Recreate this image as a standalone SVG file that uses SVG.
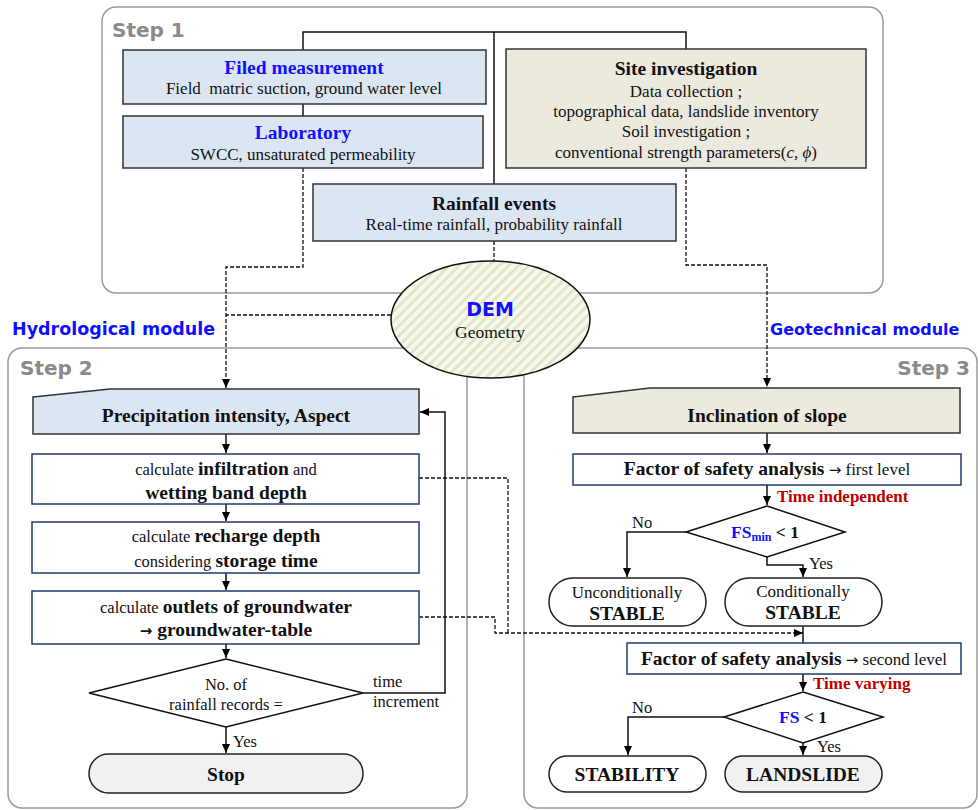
<svg xmlns="http://www.w3.org/2000/svg" width="978" height="810" viewBox="0 0 978 810">
<defs>
<pattern id="stripes" width="7" height="7" patternUnits="userSpaceOnUse" patternTransform="rotate(45)">
<rect width="7" height="7" fill="#f7f9f0"/>
<rect width="3" height="7" fill="#dfe7c8"/>
</pattern>
<marker id="arr" markerWidth="10" markerHeight="10" refX="9" refY="5" orient="auto" markerUnits="userSpaceOnUse">
<path d="M0,1 L9,5 L0,9 Z" fill="#000"/>
</marker>
</defs>
<style>
.panel{fill:none;stroke:#9a9a9a;stroke-width:1.5}
.step{font-family:"DejaVu Sans",Verdana,sans-serif;font-weight:bold;font-size:20px;fill:#8a8a8a}
.mod{font-family:"DejaVu Sans",Verdana,sans-serif;font-weight:bold;fill:#1010ff}
.blue{fill:#dce6f2;stroke:#333;stroke-width:1.5}
.beige{fill:#ece9df;stroke:#333;stroke-width:1.5}
.wbox{fill:#fff;stroke:#1f3a70;stroke-width:1.5}
.pill{fill:#fff;stroke:#222;stroke-width:1.5}
.gpill{fill:#f1f1f1;stroke:#222;stroke-width:1.5}
.dia{fill:#fff;stroke:#111;stroke-width:1.5}
.t{font-family:"Liberation Serif","Times New Roman",serif;fill:#111;text-anchor:middle}
.tl{font-family:"Liberation Serif","Times New Roman",serif;fill:#111}
.b{font-weight:bold}
.title{font-weight:bold;font-size:19.5px}
.sub{font-size:17px}
.bt{fill:#1010ff}
.red{fill:#c00000;font-weight:bold;font-size:17px}
.ar{font-family:"DejaVu Sans",sans-serif;font-size:15px}
.ln{fill:none;stroke:#111;stroke-width:1.5}
.dash{fill:none;stroke:#111;stroke-width:1.3;stroke-dasharray:4 2}
</style>

<g id="panels">
<rect class="panel" x="102" y="7" width="781" height="286" rx="14"/>
<rect class="panel" x="8" y="348" width="459" height="460" rx="14"/>
<rect class="panel" x="524" y="348" width="453" height="460" rx="14"/>
<text class="step" x="112" y="37">Step 1</text>
<text class="step" x="20" y="375">Step 2</text>
<text class="step" x="970" y="375" text-anchor="end">Step 3</text>
<text class="mod" x="12" y="335" font-size="18" textLength="203" lengthAdjust="spacingAndGlyphs">Hydrological module</text>
<text class="mod" x="770" y="335" font-size="16">Geotechnical module</text>
</g>

<g id="connectors">
<polyline class="ln" points="303,50 303,32 686,32 686,49"/>
<line class="ln" x1="494" y1="32" x2="494" y2="184"/>
<line class="ln" x1="303" y1="104" x2="303" y2="116"/>
<polyline class="dash" points="303,168 303,267 226,267 226,388" marker-end="url(#arr)"/>
<polyline class="dash" points="391,315 226,315"/>
<line class="dash" x1="494" y1="241" x2="494" y2="262"/>
<polyline class="dash" points="686,168 686,265 767,265 767,387" marker-end="url(#arr)"/>
<line class="ln" x1="226" y1="434" x2="226" y2="453" marker-end="url(#arr)"/>
<line class="ln" x1="226" y1="504" x2="226" y2="521" marker-end="url(#arr)"/>
<line class="ln" x1="226" y1="573" x2="226" y2="590" marker-end="url(#arr)"/>
<line class="ln" x1="226" y1="644" x2="226" y2="658" marker-end="url(#arr)"/>
<line class="ln" x1="226" y1="727" x2="226" y2="753" marker-end="url(#arr)"/>
<polyline class="ln" points="363,693 445,693 445,412 420,412" marker-end="url(#arr)"/>
<polyline class="dash" points="419,478 508,478 508,633"/>
<polyline class="dash" points="419,617 495,617 495,633 803,633" marker-end="url(#arr)"/>
<line class="ln" x1="767" y1="433" x2="767" y2="453" marker-end="url(#arr)"/>
<line class="ln" x1="767" y1="485" x2="767" y2="505" marker-end="url(#arr)"/>
<polyline class="ln" points="686,532 627,532 627,577" marker-end="url(#arr)"/>
<polyline class="ln" points="767,557 767,565 803,565 803,577" marker-end="url(#arr)"/>
<line class="ln" x1="803" y1="626" x2="803" y2="643"/>
<line class="ln" x1="803" y1="674" x2="803" y2="691" marker-end="url(#arr)"/>
<polyline class="ln" points="724,717 628,717 628,755" marker-end="url(#arr)"/>
<line class="ln" x1="803" y1="743" x2="803" y2="755" marker-end="url(#arr)"/>
<text class="tl" x="373" y="687" font-size="16.5">time</text>
<text class="tl" x="373" y="707" font-size="16.5">increment</text>
<text class="tl" x="233" y="747" font-size="16.5">Yes</text>
<text class="tl red" x="777" y="502">Time independent</text>
<text class="tl" x="632" y="528" font-size="16.5">No</text>
<text class="tl" x="809" y="569" font-size="16.5">Yes</text>
<text class="tl red" x="813" y="689">Time varying</text>
<text class="tl" x="632" y="713" font-size="16.5">No</text>
<text class="tl" x="817" y="752" font-size="16.5">Yes</text>
</g>

<g id="filed">
<rect class="blue" x="123" y="50" width="363" height="54"/>
<text class="t title" x="304" y="74"><tspan class="bt">Filed measurement</tspan></text>
<text class="t sub" x="304" y="94" xml:space="preserve">Field  matric suction, ground water level</text>
</g>
<g id="lab">
<rect class="blue" x="123" y="116" width="360" height="52"/>
<text class="t title" x="303" y="139"><tspan class="bt">Laboratory</tspan></text>
<text class="t sub" x="303" y="160">SWCC, unsaturated permeability</text>
</g>
<g id="site">
<rect class="beige" x="506" y="49" width="360" height="119"/>
<text class="t title" x="686" y="75">Site investigation</text>
<text class="t sub" x="686" y="97">Data collection ;</text>
<text class="t sub" x="686" y="117">topographical data, landslide inventory</text>
<text class="t sub" x="686" y="137">Soil investigation ;</text>
<text class="t sub" x="686" y="158">conventional strength parameters(<tspan font-style="italic">c, ϕ</tspan>)</text>
</g>
<g id="rainfall">
<rect class="blue" x="313" y="184" width="363" height="57"/>
<text class="t title" x="494" y="210">Rainfall events</text>
<text class="t sub" x="494" y="230">Real-time rainfall, probability rainfall</text>
</g>
<g id="dem">
<ellipse cx="490.5" cy="319.5" rx="99.5" ry="58.5" fill="url(#stripes)" stroke="#111" stroke-width="1.5"/>
<text x="490" y="316" text-anchor="middle" font-family="DejaVu Sans,Verdana,sans-serif" font-weight="bold" font-size="19" fill="#1010ff">DEM</text>
<text class="t" x="490" y="338" font-size="17.5">Geometry</text>
</g>

<g id="precip">
<polygon class="blue" points="33,397 110,389 419,389 419,434 33,434"/>
<text class="t title" x="226" y="422">Precipitation intensity, Aspect</text>
</g>
<g id="infil">
<rect class="wbox" x="32" y="454" width="387" height="50"/>
<text class="t" x="226" y="475" font-size="16.5">calculate <tspan class="title">infiltration</tspan> and</text>
<text class="t title" x="226" y="499">wetting band depth</text>
</g>
<g id="recharge">
<rect class="wbox" x="32" y="522" width="387" height="51"/>
<text class="t" x="226" y="542" font-size="16.5">calculate <tspan class="title">recharge depth</tspan></text>
<text class="t" x="226" y="567" font-size="16.5">considering <tspan class="title">storage time</tspan></text>
</g>
<g id="outlets">
<rect class="wbox" x="32" y="591" width="387" height="53"/>
<text class="t" x="226" y="613" font-size="16.5">calculate <tspan class="title">outlets of groundwater</tspan></text>
<text class="t title" x="226" y="636"><tspan class="ar" font-weight="bold">→</tspan> groundwater-table</text>
</g>
<g id="records">
<polygon class="dia" points="226,659 363,693 226,727 89,693"/>
<text class="t" x="226" y="690" font-size="16.5">No. of</text>
<text class="t" x="226" y="710" font-size="16.5">rainfall records =</text>
</g>
<g id="stop">
<rect class="gpill" x="89" y="754" width="274" height="39" rx="19.5"/>
<text class="t title" x="226" y="781">Stop</text>
</g>

<g id="incl">
<polygon class="beige" points="573,397 650,388 960,388 960,433 573,433"/>
<text class="t title" x="767" y="422">Inclination of slope</text>
</g>
<g id="fs1">
<rect class="wbox" x="573" y="454" width="388" height="31"/>
<text class="t" x="767" y="475" font-size="17"><tspan class="title">Factor of safety analysis</tspan> <tspan class="ar">→</tspan> first level</text>
</g>
<g id="dec1">
<polygon class="dia" points="767,506 845,532 767,557 686,532"/>
<text class="t b" x="765" y="538" font-size="17.5"><tspan class="bt">FS</tspan><tspan class="bt" font-size="12" dy="3">min</tspan><tspan dy="-3"> &lt; 1</tspan></text>
</g>
<g id="uncond">
<rect class="pill" x="549" y="578" width="157" height="48" rx="24"/>
<text class="t" x="627" y="598" font-size="17">Unconditionally</text>
<text class="t title" x="627" y="620">STABLE</text>
</g>
<g id="cond">
<rect class="pill" x="725" y="578" width="157" height="48" rx="24"/>
<text class="t" x="803" y="597" font-size="17">Conditionally</text>
<text class="t title" x="803" y="619">STABLE</text>
</g>
<g id="fs2">
<rect class="wbox" x="627" y="643" width="334" height="31"/>
<text class="t" x="794" y="665" font-size="17"><tspan class="title">Factor of safety analysis</tspan> <tspan class="ar">→</tspan> second level</text>
</g>
<g id="dec2">
<polygon class="dia" points="803,692 883,717 803,743 724,717"/>
<text class="t b" x="803" y="723" font-size="17.5"><tspan class="bt">FS</tspan> &lt; 1</text>
</g>
<g id="stability">
<rect class="pill" x="549" y="756" width="157" height="36" rx="18"/>
<text class="t title" x="627" y="781">STABILITY</text>
</g>
<g id="landslide">
<rect class="gpill" x="725" y="756" width="157" height="36" rx="18"/>
<text class="t title" x="803" y="781">LANDSLIDE</text>
</g>
</svg>
